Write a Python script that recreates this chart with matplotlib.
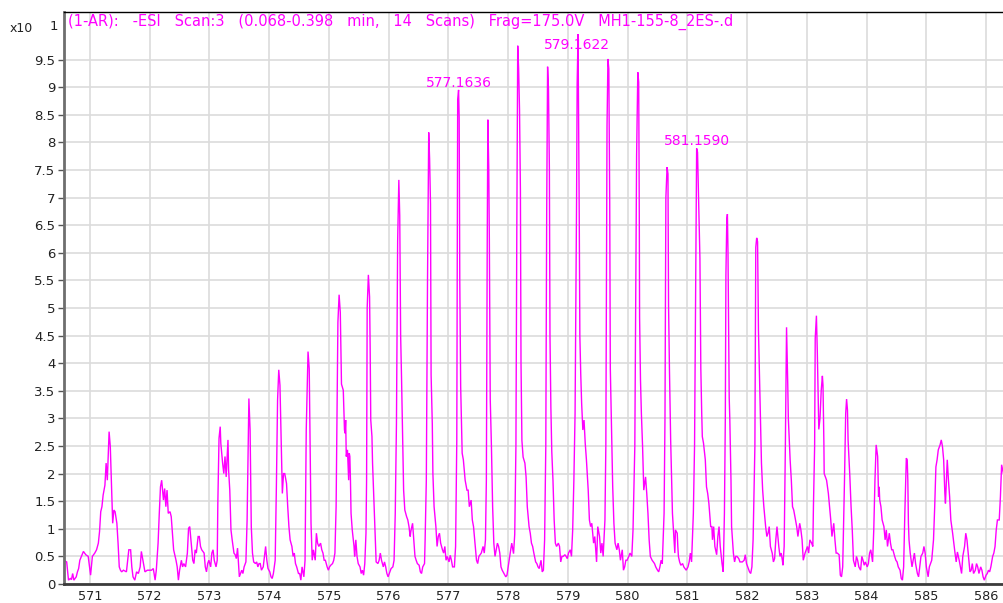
import numpy as np
import matplotlib
matplotlib.use("Agg")
import matplotlib.pyplot as plt

# profile spectrum, (m/z, counts x10)
seg_a = [
    (570.56, 0.43), (570.61, 0.40), (570.64, 0.07), (570.67, 0.10), (570.69, 0.08), (570.71, 0.19), (570.73, 0.07), (570.77, 0.13), (570.79, 0.22), (570.81, 0.28),
    (570.83, 0.43), (570.89, 0.59), (570.93, 0.53), (570.97, 0.50), (571.01, 0.16), (571.04, 0.50), (571.08, 0.56), (571.11, 0.62), (571.14, 0.74), (571.16, 0.95),
    (571.18, 1.31), (571.20, 1.40), (571.22, 1.61), (571.25, 1.79), (571.27, 2.19), (571.29, 1.88), (571.31, 2.49), (571.32, 2.76), (571.34, 2.49), (571.36, 1.82),
    (571.38, 1.10), (571.40, 1.34), (571.42, 1.31), (571.45, 1.10), (571.47, 0.74), (571.49, 0.31), (571.51, 0.25), (571.53, 0.22), (571.56, 0.25), (571.61, 0.22),
    (571.65, 0.62), (571.68, 0.62), (571.70, 0.31), (571.72, 0.13), (571.75, 0.07), (571.78, 0.22), (571.81, 0.19), (571.84, 0.31), (571.86, 0.59), (571.89, 0.40),
    (571.92, 0.22), (571.96, 0.25), (571.99, 0.25), (572.03, 0.25), (572.06, 0.28), (572.09, 0.07), (572.11, 0.25), (572.14, 0.74), (572.16, 1.28), (572.18, 1.76),
    (572.20, 1.88), (572.23, 1.52), (572.25, 1.73), (572.27, 1.40), (572.29, 1.70), (572.31, 1.28), (572.34, 1.31), (572.36, 1.22), (572.38, 0.92), (572.40, 0.62),
    (572.44, 0.43), (572.46, 0.31), (572.48, 0.07), (572.50, 0.25), (572.53, 0.43), (572.55, 0.31), (572.57, 0.37), (572.60, 0.31), (572.63, 0.56), (572.65, 1.01),
    (572.67, 1.04), (572.69, 0.80), (572.72, 0.43), (572.74, 0.37), (572.76, 0.62), (572.78, 0.56), (572.81, 0.86), (572.83, 0.86), (572.85, 0.68), (572.87, 0.62),
    (572.91, 0.56), (572.93, 0.31), (572.95, 0.22), (572.97, 0.37), (572.99, 0.43), (573.02, 0.31), (573.04, 0.56), (573.06, 0.62), (573.08, 0.43), (573.11, 0.31),
    (573.13, 0.43), (573.14, 1.46), (573.16, 2.64), (573.18, 2.85), (573.19, 2.55), (573.22, 2.19), (573.24, 2.00), (573.26, 2.31), (573.28, 1.94), (573.31, 2.61),
    (573.32, 2.07), (573.34, 1.70), (573.36, 0.98), (573.38, 0.80), (573.41, 0.56), (573.43, 0.53), (573.45, 0.46), (573.47, 0.65), (573.50, 0.13), (573.52, 0.19),
    (573.54, 0.25), (573.56, 0.19), (573.58, 0.31), (573.61, 0.40), (573.63, 1.16), (573.65, 2.61), (573.66, 3.36), (573.68, 2.79), (573.70, 1.04), (573.72, 0.56),
    (573.74, 0.40), (573.77, 0.37), (573.79, 0.40), (573.81, 0.31), (573.83, 0.37), (573.85, 0.37), (573.87, 0.25), (573.90, 0.31), (573.92, 0.50), (573.94, 0.68),
    (573.96, 0.43), (573.98, 0.28), (574.01, 0.22), (574.03, 0.13), (574.05, 0.10), (574.07, 0.19), (574.10, 0.43), (574.12, 1.76), (574.14, 3.33), (574.16, 3.88),
    (574.18, 3.60), (574.20, 2.61), (574.22, 1.64), (574.24, 2.00), (574.26, 2.00), (574.29, 1.82), (574.31, 1.40), (574.33, 1.04), (574.35, 0.80), (574.38, 0.68),
    (574.40, 0.50), (574.42, 0.56), (574.44, 0.37), (574.46, 0.31), (574.49, 0.19), (574.51, 0.19), (574.53, 0.07), (574.55, 0.31), (574.58, 0.13), (574.60, 0.43),
    (574.62, 2.79), (574.65, 4.21), (574.67, 3.90), (574.68, 2.91), (574.70, 1.10), (574.72, 0.43), (574.74, 0.62), (574.77, 0.43), (574.79, 0.92), (574.81, 0.74),
    (574.83, 0.68), (574.86, 0.74), (574.88, 0.62), (574.90, 0.56), (574.92, 0.43), (574.94, 0.43), (574.97, 0.31), (574.99, 0.25), (575.01, 0.31), (575.03, 0.34),
    (575.06, 0.37), (575.08, 0.43), (575.10, 0.56), (575.12, 1.40),
]

seg_b = [
    (575.14, 3.77), (575.15, 4.74), (575.17, 5.24), (575.19, 4.92), (575.21, 3.62), (575.24, 3.51), (575.26, 2.79), (575.27, 2.73), (575.28, 2.97), (575.29, 2.31),
    (575.31, 2.43), (575.33, 1.88), (575.34, 2.37), (575.35, 2.31), (575.36, 1.88), (575.37, 1.28), (575.39, 0.98), (575.42, 0.68), (575.43, 0.50), (575.45, 0.80),
    (575.47, 0.50), (575.49, 0.37), (575.52, 0.31), (575.54, 0.19), (575.56, 0.25), (575.58, 0.16), (575.60, 0.37), (575.62, 0.92), (575.63, 1.88), (575.64, 5.00),
    (575.66, 5.60), (575.68, 5.20), (575.69, 4.27), (575.70, 2.97), (575.72, 2.67), (575.73, 2.19), (575.75, 1.58), (575.77, 0.98), (575.79, 0.40), (575.82, 0.37),
    (575.84, 0.43), (575.86, 0.56), (575.88, 0.43), (575.91, 0.31), (575.93, 0.40), (575.95, 0.31), (575.97, 0.19), (575.99, 0.13), (576.02, 0.22), (576.04, 0.28),
    (576.07, 0.31), (576.09, 0.43), (576.11, 1.28), (576.13, 2.90), (576.15, 6.20), (576.17, 7.32), (576.185, 6.67), (576.20, 4.51), (576.215, 3.74), (576.235, 2.60),
    (576.25, 1.70), (576.27, 1.34), (576.30, 1.22), (576.32, 1.16), (576.34, 1.04), (576.36, 0.86), (576.37, 0.95), (576.40, 1.10), (576.42, 0.80), (576.44, 0.50),
    (576.46, 0.43), (576.48, 0.37), (576.51, 0.34), (576.53, 0.22), (576.55, 0.19), (576.57, 0.31), (576.60, 0.37), (576.61, 0.80), (576.63, 1.88), (576.65, 5.50),
    (576.67, 8.18), (576.685, 7.70), (576.70, 6.88), (576.71, 3.79), (576.73, 2.90), (576.74, 2.00), (576.76, 1.40), (576.79, 1.04), (576.81, 0.68), (576.83, 0.86),
    (576.85, 0.92), (576.87, 0.74), (576.90, 0.62), (576.92, 0.56), (576.94, 0.68), (576.96, 0.43), (576.98, 0.50), (577.01, 0.40), (577.03, 0.52), (577.05, 0.43),
    (577.07, 0.31), (577.10, 0.31), (577.12, 0.68), (577.14, 2.60), (577.155, 8.78), (577.17, 8.95), (577.18, 8.45), (577.19, 5.50), (577.205, 3.58), (577.23, 2.37),
    (577.25, 2.25), (577.28, 1.88), (577.30, 1.76), (577.31, 1.70), (577.33, 1.70), (577.35, 1.40), (577.38, 1.52), (577.40, 1.16), (577.42, 1.04), (577.44, 0.80),
    (577.47, 0.43), (577.49, 0.37), (577.51, 0.50), (577.53, 0.53), (577.55, 0.56), (577.58, 0.68), (577.60, 0.56), (577.62, 0.80), (577.635, 1.88), (577.65, 6.25),
    (577.66, 8.41), (577.675, 7.55), (577.685, 6.25), (577.70, 3.35), (577.72, 2.49), (577.74, 1.40), (577.76, 0.74), (577.78, 0.50), (577.80, 0.62), (577.82, 0.74),
    (577.84, 0.68), (577.86, 0.56), (577.88, 0.31), (577.90, 0.25), (577.93, 0.19), (577.96, 0.13), (577.98, 0.16), (578.00, 0.31), (578.03, 0.53), (578.06, 0.74),
    (578.09, 0.55), (578.11, 0.90), (578.13, 2.50), (578.145, 6.50), (578.16, 9.75), (578.175, 9.34), (578.19, 8.60), (578.205, 7.13), (578.215, 4.00), (578.23, 2.60),
    (578.25, 2.30), (578.28, 2.19), (578.30, 1.94), (578.32, 1.40), (578.35, 1.04), (578.37, 0.92), (578.39, 0.74), (578.41, 0.68), (578.43, 0.56), (578.46, 0.40),
    (578.48, 0.37), (578.50, 0.31), (578.52, 0.28), (578.55, 0.43), (578.57, 0.22), (578.59, 0.25), (578.61, 0.80), (578.63, 2.49), (578.645, 6.73), (578.66, 9.37),
    (578.675, 8.97), (578.69, 7.52), (578.70, 4.50), (578.715, 3.20), (578.73, 2.40), (578.75, 1.88), (578.77, 1.16), (578.79, 0.74), (578.81, 0.68), (578.84, 0.74),
    (578.86, 0.68), (578.88, 0.40), (578.90, 0.50), (578.92, 0.50), (578.95, 0.53), (578.97, 0.50), (578.99, 0.46), (579.01, 0.56), (579.04, 0.62), (579.06, 0.50),
    (579.08, 0.98), (579.10, 1.88), (579.12, 3.09), (579.145, 6.94), (579.155, 9.06), (579.17, 9.96), (579.18, 8.42), (579.19, 6.64), (579.20, 4.50), (579.215, 3.80),
    (579.23, 3.27), (579.25, 2.79), (579.27, 2.97), (579.29, 2.55), (579.31, 2.25), (579.34, 1.70), (579.36, 1.16), (579.38, 1.04), (579.40, 1.10), (579.43, 0.74),
    (579.45, 0.86), (579.47, 0.56), (579.48, 0.40), (579.50, 1.04), (579.53, 0.86), (579.55, 0.56), (579.57, 0.74), (579.59, 0.50), (579.62, 1.16), (579.635, 2.49),
    (579.655, 8.30), (579.67, 9.51), (579.685, 9.33), (579.70, 6.91), (579.71, 3.90), (579.72, 3.35), (579.73, 2.73), (579.75, 1.76), (579.77, 1.10), (579.79, 0.74),
    (579.82, 0.62), (579.84, 0.74), (579.86, 0.62), (579.88, 0.43), (579.91, 0.62), (579.93, 0.25), (579.95, 0.31), (579.97, 0.43), (579.99, 0.43), (580.02, 0.50),
    (580.04, 0.56), (580.07, 0.50), (580.09, 0.98), (580.12, 2.49), (580.15, 7.76), (580.17, 9.27), (580.185, 9.09), (580.195, 6.67), (580.20, 4.83), (580.215, 3.70),
    (580.23, 3.09), (580.25, 2.49), (580.27, 1.70), (580.30, 1.94), (580.32, 1.64), (580.34, 1.28), (580.36, 0.80), (580.38, 0.50), (580.41, 0.43), (580.43, 0.40),
    (580.45, 0.37), (580.47, 0.31), (580.50, 0.25), (580.52, 0.22), (580.54, 0.31), (580.56, 0.43), (580.58, 0.37), (580.61, 1.28), (580.625, 3.00), (580.64, 7.00),
    (580.66, 7.55), (580.675, 7.43), (580.685, 5.04), (580.70, 3.88),
]

seg_c = [
    (580.72, 2.61), (580.75, 1.28), (580.77, 0.92), (580.79, 0.56), (580.80, 0.98), (580.83, 0.92), (580.84, 0.68), (580.85, 0.50), (580.87, 0.40), (580.89, 0.34),
    (580.92, 0.37), (580.94, 0.31), (580.96, 0.28), (580.98, 0.25), (581.01, 0.31), (581.03, 0.40), (581.05, 0.56), (581.07, 0.40), (581.10, 1.28), (581.12, 2.50),
    (581.14, 5.60), (581.155, 7.89), (581.17, 7.82), (581.185, 7.12), (581.20, 6.50), (581.21, 5.90), (581.225, 3.90), (581.24, 3.09), (581.25, 2.67), (581.27, 2.55),
    (581.30, 2.25), (581.32, 1.76), (581.34, 1.64), (581.36, 1.46), (581.39, 1.04), (581.41, 1.04), (581.42, 0.80), (581.44, 1.04), (581.46, 0.68), (581.49, 0.53),
    (581.51, 0.86), (581.53, 1.04), (581.55, 0.68), (581.58, 0.37), (581.60, 0.22), (581.62, 1.28), (581.635, 3.00), (581.645, 5.60), (581.66, 6.61), (581.67, 6.70),
    (581.68, 6.00), (581.69, 4.77), (581.70, 3.38), (581.71, 3.00), (581.73, 1.88), (581.74, 1.04), (581.77, 0.56), (581.79, 0.40), (581.81, 0.50), (581.83, 0.50),
    (581.86, 0.46), (581.88, 0.40), (581.90, 0.40), (581.92, 0.40), (581.95, 0.43), (581.97, 0.53), (581.99, 0.37), (582.01, 0.31), (582.04, 0.22), (582.06, 0.19),
    (582.08, 0.31), (582.10, 0.80), (582.13, 2.49), (582.145, 6.10), (582.16, 6.27), (582.175, 6.20), (582.19, 4.59), (582.21, 3.65), (582.23, 2.70), (582.24, 2.19),
    (582.26, 1.70), (582.28, 1.40), (582.31, 1.04), (582.33, 0.86), (582.35, 0.92), (582.37, 1.04), (582.39, 0.68), (582.42, 0.56), (582.44, 0.40), (582.46, 0.46),
    (582.48, 0.80), (582.50, 1.04), (582.53, 0.68), (582.55, 0.50), (582.57, 0.56), (582.59, 0.43), (582.60, 0.34), (582.62, 0.68), (582.64, 2.49), (582.65, 3.60),
    (582.66, 4.65), (582.67, 4.15), (582.68, 3.62), (582.69, 3.00), (582.72, 2.25), (582.74, 1.88), (582.76, 1.40), (582.78, 1.34), (582.81, 1.16), (582.83, 1.04),
    (582.85, 0.86), (582.88, 1.10), (582.90, 0.98), (582.92, 0.80), (582.94, 0.43), (582.97, 0.56), (582.99, 0.62), (583.01, 0.68), (583.03, 0.56), (583.05, 0.80),
    (583.08, 0.74), (583.10, 0.68), (583.11, 1.40), (583.13, 2.49), (583.14, 4.45), (583.16, 4.86), (583.175, 4.20), (583.185, 3.60), (583.20, 2.80), (583.22, 3.00),
    (583.24, 3.50), (583.26, 3.77), (583.27, 3.60), (583.285, 2.55), (583.29, 2.00), (583.31, 1.94), (583.33, 1.88), (583.36, 1.64), (583.38, 1.40), (583.40, 1.16),
    (583.42, 0.86), (583.45, 1.10), (583.47, 0.80), (583.49, 0.56), (583.51, 0.56), (583.54, 0.53), (583.56, 0.16), (583.58, 0.13), (583.60, 0.31), (583.63, 1.88),
    (583.65, 3.09), (583.665, 3.35), (583.68, 3.15), (583.69, 2.61), (583.72, 1.94), (583.74, 1.40), (583.76, 0.98), (583.78, 0.43), (583.81, 0.31), (583.83, 0.50),
    (583.85, 0.43), (583.87, 0.31), (583.90, 0.25), (583.92, 0.50), (583.94, 0.43), (583.96, 0.34), (583.98, 0.40), (584.01, 0.31), (584.03, 0.37), (584.05, 0.56),
    (584.07, 0.62), (584.10, 0.40), (584.12, 0.98), (584.14, 1.88), (584.16, 2.52), (584.185, 2.31), (584.20, 1.58), (584.21, 1.76), (584.22, 1.52), (584.24, 1.40),
    (584.26, 1.16), (584.29, 1.04), (584.31, 0.80), (584.33, 0.98), (584.35, 0.68), (584.38, 0.92), (584.40, 0.74), (584.42, 0.62), (584.44, 0.62), (584.47, 0.50),
    (584.49, 0.43), (584.51, 0.40), (584.53, 0.31), (584.56, 0.25), (584.58, 0.10), (584.60, 0.07), (584.62, 0.31), (584.64, 1.28), (584.665, 2.28), (584.68, 2.25),
    (584.69, 1.88), (584.70, 1.10), (584.71, 0.80), (584.73, 0.56), (584.76, 0.31), (584.78, 0.43), (584.80, 0.56), (584.82, 0.37), (584.85, 0.19), (584.87, 0.13),
    (584.89, 0.31), (584.91, 0.50), (584.94, 0.56), (584.96, 0.68), (584.98, 0.56), (585.00, 0.31), (585.03, 0.13), (585.05, 0.31), (585.07, 0.37), (585.09, 0.43),
    (585.12, 0.80), (585.14, 1.40), (585.16, 2.12), (585.18, 2.25), (585.20, 2.43), (585.23, 2.52), (585.25, 2.61), (585.27, 2.49), (585.29, 2.25), (585.31, 1.64),
    (585.32, 1.46), (585.35, 2.25), (585.37, 1.88), (585.39, 1.58), (585.41, 1.16), (585.44, 0.92), (585.46, 0.74), (585.48, 0.56), (585.50, 0.40), (585.52, 0.58),
    (585.55, 0.43), (585.57, 0.31), (585.59, 0.19), (585.61, 0.50), (585.64, 0.68), (585.66, 0.92), (585.68, 0.80), (585.70, 0.56), (585.73, 0.22), (585.75, 0.25),
    (585.77, 0.37), (585.79, 0.19), (585.82, 0.25), (585.84, 0.37), (585.86, 0.31), (585.88, 0.19), (585.91, 0.31), (585.93, 0.25), (585.95, 0.13), (585.97, 0.07),
    (586.00, 0.16), (586.02, 0.19), (586.04, 0.25), (586.06, 0.22), (586.08, 0.31), (586.11, 0.50), (586.13, 0.56), (586.15, 0.68), (586.17, 0.98), (586.19, 1.16),
    (586.22, 1.16), (586.24, 1.58), (586.26, 2.16), (586.29, 2.00), (586.32, 2.05),
]

# labelled peaks: text, m/z position, height of label
peak_labels = ["577.1636", "579.1622", "581.1590"]
peak_label_x = [577.175, 579.15, 581.16]
peak_label_y = [9.08, 9.76, 8.03]

title = "(1-AR):   -ESI   Scan:3   (0.068-0.398   min,   14   Scans)   Frag=175.0V   MH1-155-8_2ES-.d"

spec = np.array(seg_a + seg_b + seg_c)
mz = spec[:, 0]
inten = spec[:, 1]

MAG = "#ff00ff"
W, H = 1004, 603

fig = plt.figure(figsize=(W / 100, H / 100), dpi=100)
ax = fig.add_axes([63.7 / W, 19 / H, 1 - 63.7 / W, (584.5 - 12) / H])

ax.plot(mz, inten, color=MAG, lw=1.0, solid_joinstyle="miter")

ax.set_xlim(570.56, 586.30)
ax.set_ylim(0, 10.37)

ax.set_xticks(np.arange(571, 587, 1))
ax.set_xticklabels([str(v) for v in range(571, 587)])
yt = np.arange(0, 10, 0.5)
ax.set_yticks(yt)
ax.set_yticklabels([("%g" % v) for v in yt])

ax.grid(True, color="#dcdcdc", lw=1.2)
ax.set_axisbelow(True)

ax.tick_params(axis="x", length=0, pad=4.5, labelsize=9.3, labelcolor="#222222")
ax.tick_params(axis="y", length=4, width=1, color="#555555", pad=2,
               labelsize=9.5, labelcolor="#222222")

ax.spines["right"].set_visible(False)
ax.spines["left"].set_color("#6e6e6e")
ax.spines["left"].set_linewidth(2)
ax.spines["bottom"].set_color("#3c3c3c")
ax.spines["bottom"].set_linewidth(2)
ax.spines["top"].set_color("black")
ax.spines["top"].set_linewidth(1)

for t, x, y in zip(peak_labels, peak_label_x, peak_label_y):
    ax.text(x, y, t, color=MAG, fontsize=10, ha="center", va="center")

fig.text(68 / W, 1 - 22 / H, title, color=MAG, fontsize=10.5, ha="left", va="center")
fig.text(10 / W, 1 - 28 / H, "x10", color="#222222", fontsize=9, ha="left", va="center")
fig.text(50 / W, 1 - 27 / H, "1", color="#222222", fontsize=9.5, ha="left", va="center")

fig.savefig("out.png", dpi=100)
